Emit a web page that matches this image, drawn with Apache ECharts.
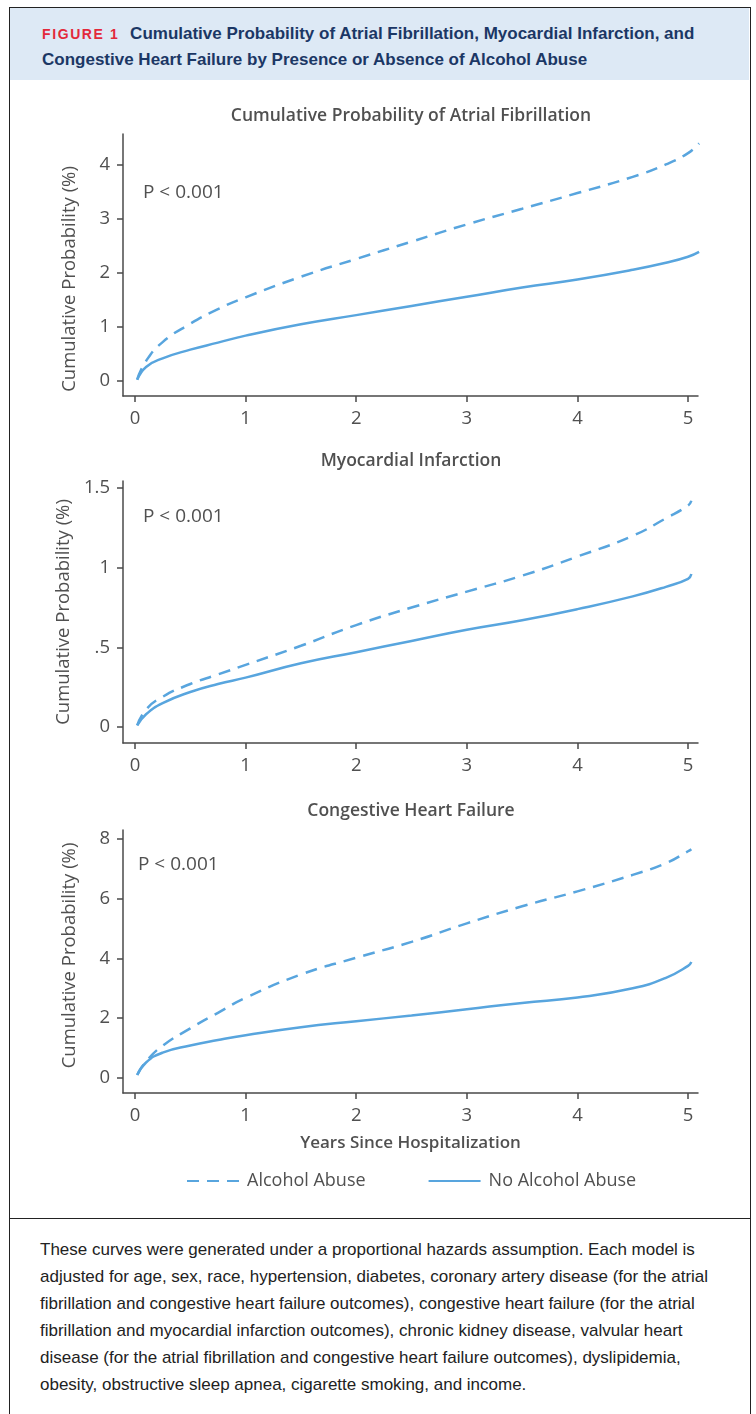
<!DOCTYPE html>
<html>
<head>
<meta charset="utf-8">
<script src="https://cdn.jsdelivr.net/npm/echarts@6/dist/echarts.min.js"></script>
<style>
  html, body { margin: 0; padding: 0; background: #fff; }
  #page { position: relative; width: 756px; height: 1414px; overflow: hidden; }
  .frame { position: absolute; left: 9px; top: 7px; width: 742px; height: 1440px; border: 1.5px solid #222; box-sizing: border-box; }
  .head { position: absolute; left: 10px; top: 8px; width: 739px; height: 72px; background: #dde9f5; }
  .head-text { position: absolute; left: 32px; top: 13px; font-family: "Liberation Sans", sans-serif; font-weight: bold; font-size: 17px; line-height: 25px; color: #1b3765; white-space: nowrap; }
  .fig { color: #e3293b; font-size: 14px; letter-spacing: 1.6px; margin-right: 6px; }
  .divider { position: absolute; left: 10px; top: 1218px; width: 740px; height: 0; border-top: 1.5px solid #222; }
  .caption { position: absolute; left: 40px; top: 1236px; font-family: "Liberation Sans", sans-serif; font-size: 17px; line-height: 27px; color: #222; white-space: nowrap; }
  #chart { position: absolute; left: 0; top: 0; width: 756px; height: 1414px; }
</style>
</head>
<body>
<div id="page">
  <div class="head">
    <div class="head-text"><span class="fig">FIGURE 1</span> Cumulative Probability of Atrial Fibrillation, Myocardial Infarction, and<br>Congestive Heart Failure by Presence or Absence of Alcohol Abuse</div>
  </div>
  <div class="frame"></div>
  <div class="divider"></div>
  <div class="caption">These curves were generated under a proportional hazards assumption. Each model is<br>adjusted for age, sex, race, hypertension, diabetes, coronary artery disease (for the atrial<br>fibrillation and congestive heart failure outcomes), congestive heart failure (for the atrial<br>fibrillation and myocardial infarction outcomes), chronic kidney disease, valvular heart<br>disease (for the atrial fibrillation and congestive heart failure outcomes), dyslipidemia,<br>obesity, obstructive sleep apnea, cigarette smoking, and income.</div>
  <div id="chart"></div>
</div>
<script>
// years since hospitalization (x values of the read points)
const afYears = [0.02, 0.1, 0.25, 0.5, 0.75, 1.0, 1.5, 2.0, 2.5, 3.0, 3.5, 4.0, 4.5, 4.8, 5.0, 5.1]
const afAlcohol = [0.03, 0.37, 0.72, 1.06, 1.33, 1.55, 1.93, 2.26, 2.58, 2.90, 3.19, 3.48, 3.78, 4.01, 4.22, 4.40]
const afNoAlcohol = [0.02, 0.26, 0.42, 0.58, 0.71, 0.84, 1.05, 1.22, 1.39, 1.56, 1.73, 1.88, 2.06, 2.19, 2.30, 2.39]

const miYears = [0.02, 0.1, 0.25, 0.5, 0.75, 1.0, 1.5, 2.0, 2.5, 3.0, 3.5, 4.0, 4.5, 4.8, 5.0, 5.03]
const miAlcohol = [0.01, 0.11, 0.19, 0.27, 0.33, 0.39, 0.51, 0.64, 0.75, 0.85, 0.95, 1.07, 1.20, 1.31, 1.39, 1.42]
const miNoAlcohol = [0.01, 0.08, 0.15, 0.22, 0.27, 0.31, 0.40, 0.47, 0.54, 0.61, 0.67, 0.74, 0.82, 0.88, 0.93, 0.96]

const chfYears = [0.02, 0.1, 0.25, 0.5, 0.75, 1.0, 1.5, 2.0, 2.5, 3.0, 3.5, 4.0, 4.5, 4.8, 5.0, 5.03]
const chfAlcohol = [0.10, 0.55, 1.08, 1.66, 2.18, 2.68, 3.46, 4.02, 4.55, 5.17, 5.74, 6.24, 6.79, 7.18, 7.58, 7.65]
const chfNoAlcohol = [0.10, 0.52, 0.85, 1.09, 1.27, 1.43, 1.70, 1.90, 2.09, 2.30, 2.51, 2.69, 3.00, 3.35, 3.75, 3.88]

const xTicks = [0, 1, 2, 3, 4, 5]
const afTicks = [0, 1, 2, 3, 4]
const miTicks = [0, 0.5, 1, 1.5]
const chfTicks = [0, 2, 4, 6, 8]

const panelTitles = ['Cumulative Probability of Atrial Fibrillation', 'Myocardial Infarction', 'Congestive Heart Failure']
const pValue = 'P < 0.001'
const legendNames = ['Alcohol Abuse', 'No Alcohol Abuse']

const blue = '#58a5de'
const axisColor = '#4a4a4a'
const textColor = '#505050'
const font = '"Open Sans", "Noto Sans", sans-serif'

function pairs(xs, ys) {
  return xs.map((x, i) => [x, ys[i]])
}

function xAxis(gridIndex, withName) {
  return {
    type: 'value',
    gridIndex,
    min: -0.1085,
    max: 5.09,
    name: withName ? 'Years Since Hospitalization' : '',
    nameLocation: 'middle',
    nameGap: 42,
    nameTextStyle: { fontSize: 17, fontWeight: 600, color: textColor, fontFamily: font },
    axisLine: { onZero: false, lineStyle: { color: axisColor, width: 1.5 } },
    axisTick: { customValues: xTicks, length: 6, lineStyle: { color: axisColor, width: 1.5 } },
    axisLabel: { customValues: xTicks, margin: 13, fontSize: 18.5, color: textColor, fontFamily: font },
    splitLine: { show: false }
  }
}

function yAxis(gridIndex, min, max, ticks, namePad) {
  return {
    type: 'value',
    gridIndex,
    min,
    max,
    name: 'Cumulative Probability (%)',
    nameLocation: 'middle',
    nameGap: 44,
    nameTextStyle: { fontSize: 18.5, color: textColor, fontFamily: font, padding: namePad },
    axisLine: { onZero: false, lineStyle: { color: axisColor, width: 1.5 } },
    axisTick: { customValues: ticks, length: 6, lineStyle: { color: axisColor, width: 1.5 } },
    axisLabel: {
      customValues: ticks,
      margin: 13,
      fontSize: 18.5,
      color: textColor,
      fontFamily: font,
      formatter: v => (v > 0 && v < 1 ? String(v).replace(/^0/, '') : String(v))
    },
    splitLine: { show: false }
  }
}

function curve(name, idx, data, dashed) {
  return {
    name,
    type: 'line',
    xAxisIndex: idx,
    yAxisIndex: idx,
    data,
    symbol: 'none',
    smooth: 0.5,
    clip: false,
    itemStyle: { color: blue },
    lineStyle: { color: blue, width: 2.5, type: dashed ? [12, 8] : 'solid' },
    emphasis: { disabled: true }
  }
}

const titleY = [116, 461, 811]
const pPos = [[143, 193], [143, 517], [138, 865]]

const chart = echarts.init(document.getElementById('chart'))
chart.setOption({
  backgroundColor: 'transparent',
  animation: false,
  textStyle: { fontFamily: font },
  grid: [
    { left: 123, top: 134, width: 575, height: 262 },
    { left: 123, top: 481, width: 575, height: 262 },
    { left: 123, top: 830, width: 575, height: 263 }
  ],
  xAxis: [xAxis(0, false), xAxis(1, false), xAxis(2, true)],
  yAxis: [
    yAxis(0, -0.278, 4.574, afTicks, [0, 28, 0, 0]),
    yAxis(1, -0.1, 1.544, miTicks, 0),
    yAxis(2, -0.5, 8.29, chfTicks, [0, 0, 0, 12])
  ],
  legend: {
    data: legendNames,
    left: 186,
    top: 1172,
    padding: 0,
    itemWidth: 52,
    itemHeight: 14,
    itemGap: 62,
    itemStyle: { opacity: 0 },
    textStyle: { fontSize: 18, color: textColor, fontFamily: font, padding: [0, 0, 0, 3] }
  },
  graphic: panelTitles.map((t, i) => ({
    type: 'text',
    x: 411,
    y: titleY[i],
    style: { text: t, align: 'center', verticalAlign: 'middle', fill: textColor, font: '600 17.5px ' + font }
  })).concat(pPos.map(p => ({
    type: 'text',
    x: p[0],
    y: p[1],
    style: { text: pValue, align: 'left', verticalAlign: 'middle', fill: textColor, font: '19px ' + font }
  }))),
  series: [
    curve(legendNames[0], 0, pairs(afYears, afAlcohol), true),
    curve(legendNames[1], 0, pairs(afYears, afNoAlcohol), false),
    curve(legendNames[0], 1, pairs(miYears, miAlcohol), true),
    curve(legendNames[1], 1, pairs(miYears, miNoAlcohol), false),
    curve(legendNames[0], 2, pairs(chfYears, chfAlcohol), true),
    curve(legendNames[1], 2, pairs(chfYears, chfNoAlcohol), false)
  ]
})
</script>
</body>
</html>
